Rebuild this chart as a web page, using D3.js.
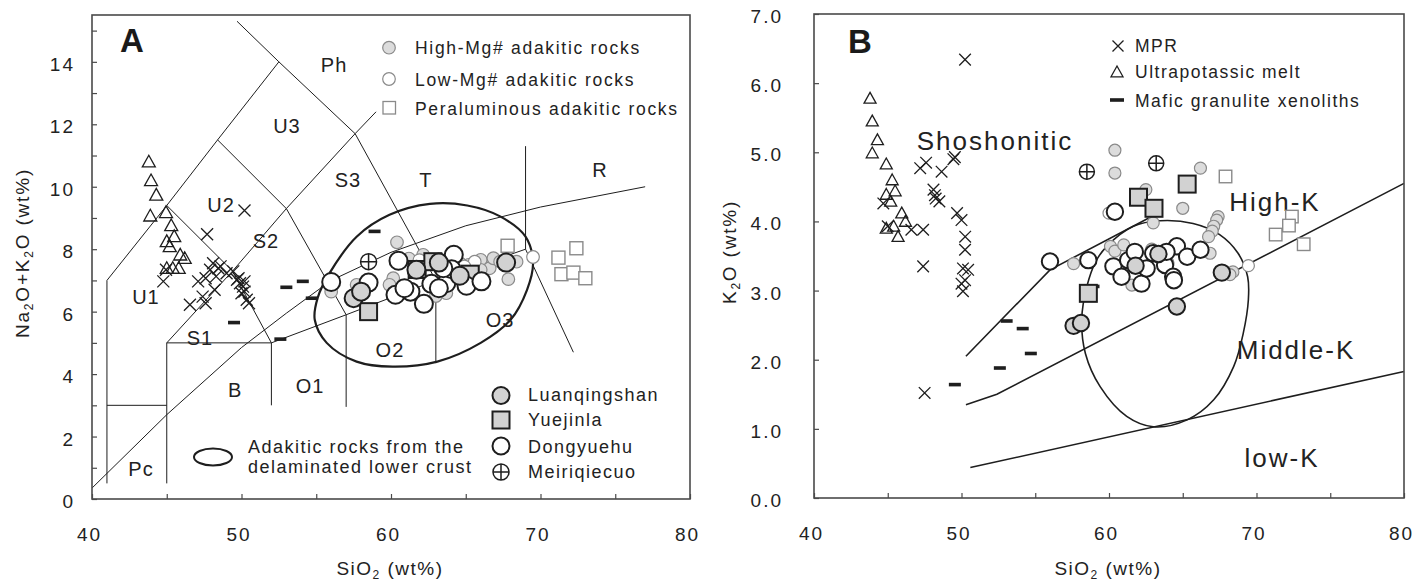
<!DOCTYPE html>
<html>
<head>
<meta charset="utf-8">
<script src="https://cdn.jsdelivr.net/npm/d3@7"></script>
<style>
  body { margin: 0; background: #fff; }
  svg { display: block; font-family: "Liberation Sans", Arial, sans-serif; }
</style>
</head>
<body>
<svg id="chart" width="1428" height="582"></svg>
<script>
// ---------- Panel A: total alkali vs silica (SiO2, Na2O+K2O wt%) ----------
const A_highMg = [[56.0,6.64],[57.7,6.86],[60.4,8.22],[60.15,7.07],[59.9,6.86],[62.15,7.82],[62.7,7.66],[63.7,6.59],[66.0,7.66],[66.6,7.39],[66.85,7.71],[67.85,7.04],[68.4,7.6],[64.6,7.55],[66.0,7.34],[61.2,7.7],[65.2,7.5],[67.3,7.6],[63.0,6.5]];
const A_lowMg = [[69.5,7.75],[65.6,7.6],[61.9,7.65],[64.9,7.45]];
const A_peral = [[67.8,8.11],[71.2,7.73],[72.4,8.03],[71.4,7.2],[72.2,7.25],[73.0,7.07]];
const A_mpr = [[50.2,9.24],[47.7,8.48],[44.95,7.34],[44.77,6.97],[48.1,7.55],[48.45,7.39],[47.9,7.34],[47.1,6.97],[47.6,7.07],[48.3,7.13],[48.2,6.7],[47.4,6.48],[46.55,6.22],[47.6,6.27],[49.0,7.23],[49.45,7.29],[49.7,7.02],[49.9,6.91],[50.1,6.8],[50.2,6.64],[50.0,6.59],[50.35,6.38],[50.5,6.27],[49.8,7.07],[50.2,6.97],[48.6,7.45]];
const A_ultrapotassic = [[43.8,10.8],[43.95,10.2],[44.3,9.74],[43.9,9.07],[44.95,9.18],[45.3,8.76],[45.5,8.41],[45.0,8.25],[45.2,8.09],[45.9,7.82],[46.2,7.71],[45.0,7.39],[45.4,7.39],[45.8,7.39]];
const A_granulite = [[53.0,6.78],[54.1,6.97],[54.7,6.43],[49.5,5.65],[52.6,5.12],[58.9,8.57]];
const A_luanqingshan = [[57.5,6.43],[58.0,6.64],[61.7,7.34],[63.2,7.57],[64.6,7.15],[67.7,7.57]];
const A_yuejinla = [[58.5,6.0],[61.75,7.35],[62.8,7.6],[65.3,7.2]];
const A_dongyuehu = [[56.0,6.95],[58.5,6.93],[60.5,7.63],[60.3,6.54],[61.3,6.64],[62.2,6.25],[62.7,6.89],[64.2,7.82],[63.7,6.91],[65.05,6.83],[66.05,6.97],[63.2,6.75],[64.05,7.36],[63.5,7.39],[60.9,6.75]];
const A_meiriqiecuo = [[58.5,7.6]];

// TAS field boundaries (polylines in SiO2, alkali units)
const A_fieldLines = [
  [[41,0.5],[41,7],[45,9.4],[48.4,11.5],[52.5,14],[49.7,15.3]],
  [[41,3],[45,3]],
  [[45,0.5],[45,5],[52,5]],
  [[52,3],[52,5],[57,5.9],[63,7],[69,8],[72.2,4.7]],
  [[57,2.95],[57,5.9]],
  [[63,4.35],[63,7]],
  [[69,8],[69,11.3]],
  [[45,5],[49.4,7.3],[53,9.3],[57.6,11.7],[59,12.4]],
  [[45,9.4],[49.4,7.3],[52,5]],
  [[48.4,11.5],[53,9.3],[57,5.9]],
  [[52.5,14],[57.6,11.7],[63,7]],
  [[40,0.35],[45,2.7],[50,4.85],[53,5.95],[56,7],[60,7.9],[65,8.75],[70,9.35],[77,10]]
];
// Field of adakitic rocks from the delaminated lower crust
const A_field = [[55.9,7.24],[57.7,8.4],[59.9,9.1],[62.6,9.45],[65.1,9.4],[67.3,9.05],[69.0,8.4],[69.5,7.55],[69.1,6.7],[68.0,5.74],[66.0,5.0],[63.1,4.4],[60.1,4.24],[57.7,4.4],[55.7,5.0],[54.9,5.74],[55.1,6.45]];
const A_fieldNames = ["Ph","U3","U2","S3","T","R","S2","U1","S1","B","O1","O2","O3","Pc"];
const A_fieldNamePos = [[56.19,13.91],[53.04,11.96],[48.63,9.42],[57.12,10.22],[62.34,10.22],[73.98,10.54],[51.64,8.27],[43.61,6.47],[47.22,5.16],[49.57,3.49],[54.58,3.62],[59.93,4.78],[67.29,5.74],[43.28,0.96]];

// ---------- Panel B: K2O vs SiO2 ----------
const B_highMg = [[60.4,5.03],[60.4,4.7],[62.5,4.46],[66.2,4.77],[65.0,4.19],[63.0,3.98],[67.4,4.07],[67.3,4.02],[67.1,3.93],[67.0,3.86],[66.75,3.78],[66.85,3.54],[60.1,3.64],[60.4,3.57],[57.6,3.39],[61.0,3.66],[62.9,3.6],[68.4,3.27],[68.2,3.23],[61.55,3.08],[64.0,3.4]];
const B_lowMg = [[69.45,3.36],[60.0,4.12]];
const B_peral = [[67.9,4.65],[72.4,4.07],[72.2,3.94],[71.3,3.81],[73.2,3.67]];
const B_mpr = [[50.24,6.34],[47.2,4.77],[47.6,4.85],[48.65,4.72],[49.45,4.9],[49.55,4.93],[48.1,4.46],[48.2,4.38],[48.25,4.33],[48.5,4.29],[49.7,4.12],[50.0,4.02],[50.25,3.78],[50.24,3.59],[44.7,4.26],[45.0,3.93],[46.6,3.88],[47.4,3.88],[47.4,3.35],[50.1,3.32],[50.45,3.3],[50.0,3.1],[50.1,2.99],[50.24,3.15],[47.5,1.52]];
const B_ultrapotassic = [[43.8,5.78],[43.95,5.45],[44.3,5.18],[43.95,4.99],[44.9,4.83],[45.3,4.6],[45.5,4.44],[44.9,4.39],[45.2,4.29],[45.95,4.12],[46.2,4.0],[44.9,3.9],[45.4,3.93],[45.7,3.78]];
const B_granulite = [[58.95,3.06],[53.06,2.56],[54.15,2.45],[54.7,2.09],[52.6,1.88],[49.55,1.64]];
const B_luanqingshan = [[57.6,2.49],[58.1,2.53],[61.8,3.36],[63.35,3.53],[67.65,3.26],[64.6,2.77]];
const B_yuejinla = [[62.0,4.35],[63.05,4.19],[65.3,4.54],[58.6,2.96]];
const B_dongyuehu = [[56.0,3.42],[58.6,3.44],[60.4,4.14],[60.3,3.35],[61.3,3.44],[61.75,3.56],[60.85,3.2],[62.2,3.1],[62.55,3.32],[63.8,3.37],[64.35,3.2],[64.4,3.15],[64.6,3.64],[65.3,3.49],[66.2,3.59],[63.9,3.56],[63.0,3.54]];
const B_meiriqiecuo = [[58.5,4.72],[63.2,4.84]];

// Series boundaries
const B_fieldLines = [
  [[50.3,2.05],[56,3.3],[62.7,4.05]],
  [[50.3,1.35],[52.4,1.5],[80,4.55]],
  [[50.6,0.44],[80,1.83]]
];
const B_field = [[59.85,3.64],[61.65,3.93],[63.45,4.01],[65.7,3.97],[67.5,3.81],[68.75,3.54],[69.4,3.2],[69.45,2.87],[69.1,2.38],[68.45,1.9],[67.1,1.42],[65.3,1.13],[63.0,1.03],[61.2,1.18],[59.4,1.61],[58.4,2.09],[58.15,2.58],[58.5,3.06],[59.1,3.42]];
const B_fieldNames = ["Shoshonitic","High-K","Middle-K","low-K"];
const B_fieldNamePos = [[52.27,5.17],[71.25,4.28],[72.68,2.14],[71.73,0.58]];

const xTicks = [40,45,50,55,60,65,70,75,80];
const A_yTicks = d3.range(0, 16);
const B_yTicks = [0,1,2,3,4,5,6,7];

// ---------- drawing ----------
const svg = d3.select("#chart");
const INK = "#1e1e1e";
const FRAME = "#4a4a4a";

const xA = d3.scaleLinear().domain([40, 80]).range([92, 690]);
const yA = d3.scaleLinear().domain([0, 15.5]).range([499, 15]);
const xB = d3.scaleLinear().domain([40, 80]).range([814, 1404]);
const yB = d3.scaleLinear().domain([0, 7]).range([498, 14]);

function styleAxis(g) {
  g.select(".domain").remove();
  g.selectAll(".tick line").attr("stroke", FRAME).attr("stroke-width", 1.2);
  g.selectAll(".tick text").attr("fill", "#222").style("font-size", "19px").style("letter-spacing", "2px");
}

function drawFrame(x, y) {
  const [x0, x1] = x.range(), [y0, y1] = y.range();
  svg.append("rect").attr("x", x0).attr("y", y1).attr("width", x1 - x0).attr("height", y0 - y1)
    .attr("fill", "none").attr("stroke", FRAME).attr("stroke-width", 1.6);
}

function axes(x, y, yTicks, yFmt, yPad) {
  svg.append("g").attr("transform", `translate(0,${y.range()[0]})`)
    .call(d3.axisBottom(x).tickValues(xTicks).tickSize(-5).tickSizeOuter(0).tickPadding(28.5)
      .tickFormat(d => d % 10 ? "" : d))
    .call(styleAxis)
    .call(g => g.selectAll(".tick text").attr("dx", -3));
  svg.append("g").attr("transform", `translate(${x.range()[0]},0)`)
    .call(d3.axisLeft(y).tickValues(yTicks).tickSize(-5).tickSizeOuter(0).tickPadding(yPad).tickFormat(yFmt))
    .call(styleAxis)
    .call(g => g.selectAll(".tick text").attr("dy", "0.45em"));
}

const line = (x, y) => d3.line().x(d => x(d[0])).y(d => y(d[1]));
const closed = (x, y) => d3.line().x(d => x(d[0])).y(d => y(d[1])).curve(d3.curveCatmullRomClosed.alpha(0.5));

// symbol helpers
function circles(g, data, x, y, r, fill, stroke, sw) {
  g.selectAll(null).data(data).enter().append("circle")
    .attr("cx", d => x(d[0])).attr("cy", d => y(d[1])).attr("r", r)
    .attr("fill", fill).attr("stroke", stroke).attr("stroke-width", sw);
}
function squares(g, data, x, y, s, fill, stroke, sw) {
  g.selectAll(null).data(data).enter().append("rect")
    .attr("x", d => x(d[0]) - s / 2).attr("y", d => y(d[1]) - s / 2)
    .attr("width", s).attr("height", s)
    .attr("fill", fill).attr("stroke", stroke).attr("stroke-width", sw);
}
function crosses(g, data, x, y, h) {
  g.selectAll(null).data(data).enter().append("path")
    .attr("d", d => { const cx = x(d[0]), cy = y(d[1]);
      return `M${cx-h},${cy-h}L${cx+h},${cy+h}M${cx-h},${cy+h}L${cx+h},${cy-h}`; })
    .attr("stroke", INK).attr("stroke-width", 1.3).attr("fill", "none");
}
function triangles(g, data, x, y, h) {
  g.selectAll(null).data(data).enter().append("path")
    .attr("d", d => { const cx = x(d[0]), cy = y(d[1]);
      return `M${cx},${cy-h}L${cx+h},${cy+h*0.8}L${cx-h},${cy+h*0.8}Z`; })
    .attr("stroke", INK).attr("stroke-width", 1.3).attr("fill", "none");
}
function dashes(g, data, x, y, w) {
  g.selectAll(null).data(data).enter().append("rect")
    .attr("x", d => x(d[0]) - w / 2).attr("y", d => y(d[1]) - 1.8)
    .attr("width", w).attr("height", 3.6).attr("fill", INK);
}
function crossCircles(g, data, x, y, r) {
  const s = g.selectAll(null).data(data).enter().append("g")
    .attr("transform", d => `translate(${x(d[0])},${y(d[1])})`);
  s.append("circle").attr("r", r).attr("fill", "#fff").attr("stroke", INK).attr("stroke-width", 1.5);
  s.append("path").attr("d", `M${-r},0H${r}M0,${-r}V${r}`).attr("stroke", INK).attr("stroke-width", 1.5);
}

function subText(sel, parts) {
  // parts: [text, isSubscript]
  parts.forEach(([t, sub], i) => {
    const ts = sel.append("tspan").text(t);
    if (sub) ts.style("font-size", "12px").attr("dy", 4);
    else if (i > 0) ts.attr("dy", -4);
  });
}

// ===== Panel A =====
axes(xA, yA, A_yTicks, d => d % 2 ? "" : d, 17);
const gA = svg.append("g");
A_fieldLines.forEach(l => gA.append("path").attr("d", line(xA, yA)(l))
  .attr("fill", "none").attr("stroke", INK).attr("stroke-width", 1));
gA.append("path").attr("d", closed(xA, yA)(A_field))
  .attr("fill", "none").attr("stroke", INK).attr("stroke-width", 2.2);
gA.selectAll(null).data(A_fieldNames).enter().append("text")
  .attr("x", (d, i) => xA(A_fieldNamePos[i][0])).attr("y", (d, i) => yA(A_fieldNamePos[i][1]))
  .attr("text-anchor", "middle").attr("dominant-baseline", "central")
  .style("font-size", "20px").style("letter-spacing", "1px").attr("fill", "#222").text(d => d);

circles(gA, A_highMg, xA, yA, 6.3, "#dcdcdc", "#8a8a8a", 1.2);
circles(gA, A_lowMg, xA, yA, 6.3, "#fff", "#8a8a8a", 1.2);
squares(gA, A_peral, xA, yA, 13, "#fff", "#8a8a8a", 1.4);
triangles(gA, A_ultrapotassic, xA, yA, 6.5);
crosses(gA, A_mpr, xA, yA, 6);
dashes(gA, A_granulite, xA, yA, 12);
squares(gA, A_yuejinla, xA, yA, 17, "#d2d2d2", INK, 2);
circles(gA, A_dongyuehu, xA, yA, 9, "#fff", INK, 2);
circles(gA, A_luanqingshan, xA, yA, 9, "#d2d2d2", INK, 2);
crossCircles(gA, A_meiriqiecuo, xA, yA, 8);
drawFrame(xA, yA);

svg.append("text").attr("x", 120).attr("y", 52).style("font-size", "33px").style("font-weight", "bold")
  .attr("fill", "#1a1a1a").text("A");

// legend – upper right of panel A
const legA1 = svg.append("g").style("font-size", "17.5px").style("letter-spacing", "1.7px").attr("fill", "#222");
legA1.append("circle").attr("cx", 389).attr("cy", 47.7).attr("r", 6.3).attr("fill", "#dcdcdc").attr("stroke", "#8a8a8a").attr("stroke-width", 1.2);
legA1.append("circle").attr("cx", 389).attr("cy", 79).attr("r", 6.3).attr("fill", "#fff").attr("stroke", "#8a8a8a").attr("stroke-width", 1.2);
legA1.append("rect").attr("x", 383).attr("y", 101.5).attr("width", 12.5).attr("height", 12.5).attr("fill", "#fff").attr("stroke", "#8a8a8a").attr("stroke-width", 1.3);
legA1.append("text").attr("x", 415).attr("y", 54).text("High-Mg# adakitic rocks");
legA1.append("text").attr("x", 415).attr("y", 86).text("Low-Mg# adakitic rocks");
legA1.append("text").attr("x", 415).attr("y", 115).text("Peraluminous adakitic rocks");

// legend – lower right of panel A
const legA2 = svg.append("g").style("font-size", "18px").style("letter-spacing", "1.5px").attr("fill", "#222");
legA2.append("circle").attr("cx", 501).attr("cy", 395.5).attr("r", 8.5).attr("fill", "#d2d2d2").attr("stroke", INK).attr("stroke-width", 2);
legA2.append("rect").attr("x", 492.5).attr("y", 411.5).attr("width", 17).attr("height", 17).attr("fill", "#d2d2d2").attr("stroke", INK).attr("stroke-width", 2);
legA2.append("circle").attr("cx", 501).attr("cy", 446).attr("r", 8.5).attr("fill", "#fff").attr("stroke", INK).attr("stroke-width", 2);
crossCircles(legA2, [[0, 0]], () => 501, () => 472, 8);
[["Luanqingshan", 401], ["Yuejinla", 426], ["Dongyuehu", 452.5], ["Meiriqiecuo", 478]].forEach(([t, yy]) =>
  legA2.append("text").attr("x", 528).attr("y", yy).text(t));
legA2.append("ellipse").attr("cx", 213).attr("cy", 457).attr("rx", 19).attr("ry", 8.5)
  .attr("fill", "none").attr("stroke", INK).attr("stroke-width", 2);
legA2.append("text").attr("x", 248).attr("y", 453).text("Adakitic rocks from the");
legA2.append("text").attr("x", 248).attr("y", 473).text("delaminated lower crust");

// axis titles A
const tA = svg.append("text").attr("x", 390).attr("y", 575).attr("text-anchor", "middle")
  .style("font-size", "19px").style("letter-spacing", "1.5px").attr("fill", "#222");
subText(tA, [["SiO", false], ["2", true], [" (wt%)", false]]);
const tAy = svg.append("text").attr("transform", "rotate(-90)").attr("x", -253).attr("y", 29)
  .attr("text-anchor", "middle").style("font-size", "19px").style("letter-spacing", "1.8px").attr("fill", "#222");
subText(tAy, [["Na", false], ["2", true], ["O+K", false], ["2", true], ["O (wt%)", false]]);

// ===== Panel B =====
axes(xB, yB, B_yTicks, d3.format(".1f"), 31);
const gB = svg.append("g");
B_fieldLines.forEach(l => gB.append("path").attr("d", line(xB, yB)(l))
  .attr("fill", "none").attr("stroke", INK).attr("stroke-width", 1.6));
gB.append("path").attr("d", closed(xB, yB)(B_field))
  .attr("fill", "none").attr("stroke", INK).attr("stroke-width", 1.6);
gB.selectAll(null).data(B_fieldNames).enter().append("text")
  .attr("x", (d, i) => xB(B_fieldNamePos[i][0])).attr("y", (d, i) => yB(B_fieldNamePos[i][1]))
  .attr("text-anchor", "middle").attr("dominant-baseline", "central")
  .style("font-size", "26px").style("letter-spacing", "2px").attr("fill", "#222").text(d => d);

circles(gB, B_highMg, xB, yB, 6, "#dcdcdc", "#8a8a8a", 1.2);
circles(gB, B_lowMg, xB, yB, 6, "#fff", "#8a8a8a", 1.2);
squares(gB, B_peral, xB, yB, 12.5, "#fff", "#8a8a8a", 1.4);
triangles(gB, B_ultrapotassic, xB, yB, 6);
crosses(gB, B_mpr, xB, yB, 5.8);
dashes(gB, B_granulite, xB, yB, 12);
squares(gB, B_yuejinla, xB, yB, 17, "#d2d2d2", INK, 2);
circles(gB, B_dongyuehu, xB, yB, 8.2, "#fff", INK, 2);
circles(gB, B_luanqingshan, xB, yB, 8.2, "#d2d2d2", INK, 2);
crossCircles(gB, B_meiriqiecuo, xB, yB, 7.5);
drawFrame(xB, yB);

svg.append("text").attr("x", 848).attr("y", 53).style("font-size", "33px").style("font-weight", "bold")
  .attr("fill", "#1a1a1a").text("B");

// legend – panel B
const legB = svg.append("g").style("font-size", "17.5px").style("letter-spacing", "1.5px").attr("fill", "#222");
crosses(legB, [[0, 0]], () => 1118, () => 46, 5.5);
triangles(legB, [[0, 0]], () => 1117, () => 72, 6);
legB.append("rect").attr("x", 1110).attr("y", 98.2).attr("width", 14).attr("height", 3.6).attr("fill", INK);
legB.append("text").attr("x", 1135).attr("y", 52).text("MPR");
legB.append("text").attr("x", 1135).attr("y", 78).text("Ultrapotassic melt");
legB.append("text").attr("x", 1135).attr("y", 107).text("Mafic granulite xenoliths");

// axis titles B
const tB = svg.append("text").attr("x", 1108).attr("y", 575).attr("text-anchor", "middle")
  .style("font-size", "19px").style("letter-spacing", "1.5px").attr("fill", "#222");
subText(tB, [["SiO", false], ["2", true], [" (wt%)", false]]);
const tBy = svg.append("text").attr("transform", "rotate(-90)").attr("x", -252).attr("y", 736)
  .attr("text-anchor", "middle").style("font-size", "19px").style("letter-spacing", "1.8px").attr("fill", "#222");
subText(tBy, [["K", false], ["2", true], ["O (wt%)", false]]);
</script>
</body>
</html>
